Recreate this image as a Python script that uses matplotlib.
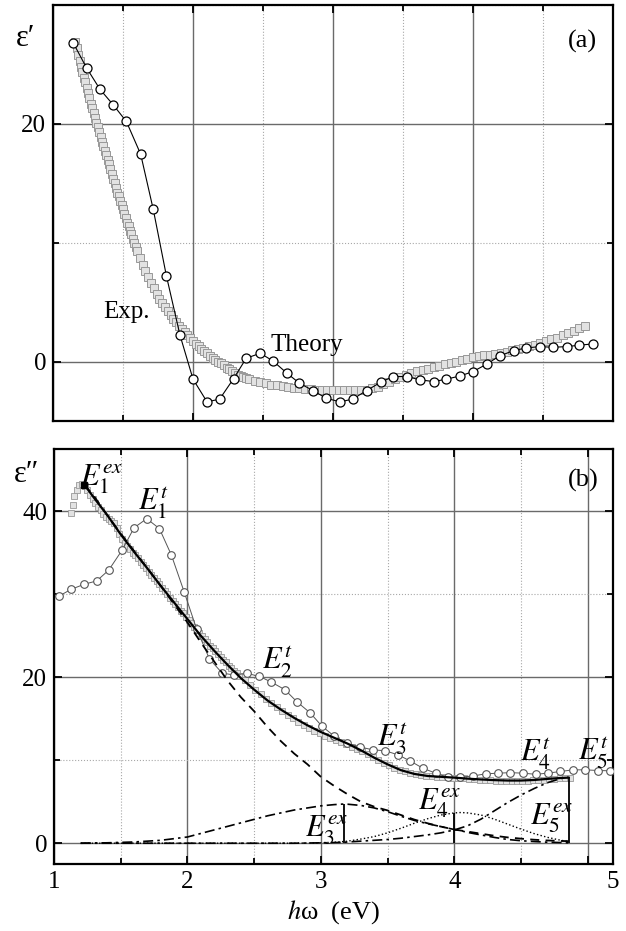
import matplotlib
matplotlib.use('Agg')
import numpy as np
import matplotlib.pyplot as plt

plt.rcParams['font.family'] = ['Liberation Serif', 'DejaVu Serif']
plt.rcParams['mathtext.fontset'] = 'stix'

# ---------------- panel (a): eps' ----------------
# experiment (dense squares)
eps1_exp_e = [1.16, 1.17, 1.18, 1.19, 1.20, 1.21, 1.22, 1.23, 1.24, 1.25,
              1.26, 1.27, 1.28, 1.29, 1.30, 1.31, 1.32, 1.33, 1.34, 1.35,
              1.36, 1.37, 1.38, 1.39, 1.40, 1.41, 1.42, 1.43, 1.44, 1.45,
              1.46, 1.47, 1.48, 1.49, 1.50, 1.51, 1.52, 1.53, 1.54, 1.55,
              1.56, 1.57, 1.58, 1.59, 1.60,
              1.62, 1.64, 1.66, 1.68, 1.70, 1.72, 1.74, 1.76, 1.78, 1.80,
              1.82, 1.84, 1.86, 1.88, 1.90, 1.92, 1.94, 1.96, 1.98, 2.00,
              2.02, 2.04, 2.06, 2.08, 2.10, 2.12, 2.14, 2.16, 2.18, 2.20,
              2.22, 2.24, 2.26, 2.28, 2.30, 2.32, 2.34, 2.36, 2.38, 2.40,
              2.44, 2.48, 2.52, 2.56, 2.60, 2.64, 2.68, 2.72, 2.76, 2.80,
              2.84, 2.88, 2.92, 2.96, 3.00, 3.04, 3.08, 3.12, 3.16, 3.20,
              3.24, 3.28, 3.32, 3.36, 3.40, 3.44, 3.48, 3.52, 3.56, 3.60,
              3.64, 3.68, 3.72, 3.76, 3.80, 3.84, 3.88, 3.92, 3.96, 4.00,
              4.04, 4.08, 4.12, 4.16, 4.20, 4.24, 4.28, 4.32, 4.36, 4.40,
              4.44, 4.48, 4.52, 4.56, 4.60, 4.64, 4.68, 4.72, 4.76, 4.80]
eps1_exp = [26.9, 26.4, 25.8, 25.3, 24.8, 24.4, 23.9, 23.5, 23.0, 22.6,
            22.2, 21.7, 21.3, 20.9, 20.5, 20.1, 19.7, 19.3, 18.9, 18.5,
            18.1, 17.7, 17.4, 17.0, 16.6, 16.2, 15.8, 15.4, 15.0, 14.6,
            14.2, 13.9, 13.5, 13.2, 12.8, 12.4, 12.1, 11.7, 11.4, 11.0,
            10.7, 10.3, 10.0, 9.6, 9.3,
            8.7, 8.1, 7.6, 7.1, 6.6, 6.15, 5.7, 5.3, 4.95, 4.6,
            4.25, 3.9, 3.6, 3.3, 3.0, 2.75, 2.45, 2.2, 1.95, 1.75,
            1.5, 1.3, 1.1, 0.9, 0.7, 0.5, 0.33, 0.15, 0.0, -0.15,
            -0.3, -0.5, -0.65, -0.8, -0.95, -1.1, -1.2, -1.3, -1.4, -1.5,
            -1.62, -1.74, -1.84, -1.93, -2.0, -2.08, -2.15, -2.2, -2.25, -2.3,
            -2.33, -2.35, -2.37, -2.39, -2.4, -2.41, -2.42, -2.42, -2.42, -2.4,
            -2.36, -2.25, -2.1, -1.9, -1.7, -1.5, -1.3, -1.1, -0.92, -0.8,
            -0.7, -0.6, -0.48, -0.36, -0.24, -0.12, 0.0, 0.12, 0.24, 0.36,
            0.44, 0.52, 0.58, 0.65, 0.74, 0.84, 0.95, 1.06, 1.18, 1.3,
            1.42, 1.56, 1.7, 1.86, 2.02, 2.2, 2.4, 2.6, 2.8, 3.0]

# theory (open circles)
eps1_th_e = [1.145, 1.24, 1.336, 1.43, 1.524, 1.626, 1.716, 1.81, 1.907, 2.0,
             2.10, 2.19, 2.29, 2.38, 2.48, 2.57, 2.67, 2.76, 2.86, 2.95,
             3.05, 3.14, 3.24, 3.34, 3.43, 3.53, 3.62, 3.72, 3.81, 3.91,
             4.0, 4.10, 4.19, 4.29, 4.38, 4.48, 4.57, 4.67, 4.76, 4.86]
eps1_th = [26.8, 24.7, 22.9, 21.6, 20.2, 17.45, 12.8, 7.2, 2.22, -1.48,
           -3.39, -3.16, -1.43, 0.28, 0.7, 0.06, -0.97, -1.82, -2.46, -3.08,
           -3.39, -3.16, -2.44, -1.74, -1.26, -1.26, -1.54, -1.68, -1.48, -1.2,
           -0.84, -0.2, 0.48, 0.92, 1.15, 1.26, 1.2, 1.26, 1.38, 1.49]

# ---------------- panel (b): eps'' ----------------
eps2_exp_e = [1.13, 1.14, 1.15, 1.17, 1.19, 1.21,
              1.23, 1.25, 1.27, 1.29, 1.31, 1.33, 1.35, 1.37, 1.39, 1.41,
              1.43, 1.45, 1.47, 1.49, 1.51, 1.53, 1.55, 1.57, 1.59, 1.61,
              1.63, 1.65, 1.67, 1.69, 1.71, 1.73, 1.75, 1.77, 1.79, 1.81,
              1.83, 1.85, 1.87, 1.89, 1.91, 1.93, 1.95, 1.97, 1.99, 2.01,
              2.03, 2.05, 2.07, 2.09, 2.11, 2.13, 2.15, 2.17, 2.19, 2.21,
              2.23, 2.25, 2.27, 2.29, 2.31, 2.33, 2.35, 2.37, 2.39,
              2.43, 2.47, 2.51, 2.55, 2.59, 2.63, 2.67, 2.71, 2.75, 2.79,
              2.83, 2.87, 2.91, 2.95, 2.99, 3.03, 3.07, 3.11, 3.15, 3.19,
              3.23, 3.27, 3.31, 3.35, 3.39, 3.43, 3.47, 3.51, 3.55, 3.59,
              3.63, 3.67, 3.71, 3.75, 3.79, 3.83, 3.87, 3.91, 3.95, 3.99,
              4.03, 4.07, 4.11, 4.15, 4.19, 4.23, 4.27, 4.31, 4.35, 4.39,
              4.43, 4.47, 4.51, 4.55, 4.59, 4.63, 4.67, 4.71, 4.75, 4.79,
              4.83, 4.87]
eps2_exp = [39.8, 40.8, 41.8, 42.6, 43.1, 43.3,
            43.0, 42.5, 42.0, 41.5, 41.0, 40.5, 40.1, 39.7, 39.3, 39.0,
            38.8, 38.6, 38.0, 37.2, 36.6, 36.2, 35.8, 35.4, 35.0, 34.7,
            34.3, 33.9, 33.5, 33.1, 32.7, 32.3, 31.9, 31.6, 31.2, 30.8,
            30.4, 30.0, 29.6, 29.2, 28.8, 28.4, 28.0, 27.7, 27.3, 26.9,
            26.5, 26.1, 25.7, 25.3, 25.0, 24.6, 24.2, 23.8, 23.5, 23.1,
            22.8, 22.4, 22.1, 21.8, 21.4, 21.1, 20.8, 20.5, 20.2,
            19.7, 19.1, 18.5, 18.0, 17.4, 16.9, 16.4, 15.95, 15.5, 15.05,
            14.65, 14.25, 13.9, 13.55, 13.25, 12.95, 12.7, 12.45, 12.2, 11.9,
            11.65, 11.35, 11.05, 10.7, 10.35, 10.0, 9.7, 9.4, 9.1, 8.85,
            8.65, 8.45, 8.3, 8.2, 8.1, 8.05, 8.0, 7.96, 7.92, 7.88,
            7.84, 7.8, 7.75, 7.7, 7.65, 7.6, 7.57, 7.54, 7.52, 7.5,
            7.48, 7.48, 7.5, 7.53, 7.57, 7.62, 7.67, 7.72, 7.77, 7.82,
            7.86, 7.9]

eps2_th_e = [1.04, 1.13, 1.227, 1.32, 1.41, 1.51, 1.60, 1.695, 1.79, 1.88,
             1.975, 2.07, 2.165, 2.26, 2.35, 2.445, 2.54, 2.63, 2.73, 2.82,
             2.92, 3.008, 3.10, 3.195, 3.295, 3.39, 3.48, 3.58, 3.67, 3.765,
             3.86, 3.95, 4.045, 4.14, 4.235, 4.33, 4.42, 4.515, 4.61, 4.70,
             4.795, 4.89, 4.98, 5.08, 5.17]
eps2_th = [29.8, 30.6, 31.2, 31.6, 32.9, 35.3, 38.0, 39.1, 37.9, 34.7,
           30.3, 25.75, 22.2, 20.5, 20.26, 20.46, 20.1, 19.4, 18.5, 17.05,
           15.7, 14.1, 12.9, 12.05, 11.6, 11.24, 11.15, 10.64, 9.9, 9.03,
           8.44, 7.96, 7.96, 8.1, 8.36, 8.44, 8.5, 8.44, 8.3, 8.44,
           8.64, 8.84, 8.84, 8.76, 8.72]

# fit: total (solid) and E1 oscillator (dashed)
fit_e = [1.227, 1.3, 1.4, 1.5, 1.6, 1.7, 1.8, 1.9, 2.0, 2.1, 2.2, 2.3, 2.4,
         2.5, 2.6, 2.7, 2.8, 2.9, 3.0, 3.1, 3.2, 3.3, 3.4, 3.5, 3.6, 3.7,
         3.8, 3.9, 4.0, 4.1, 4.2, 4.3, 4.4, 4.5, 4.6, 4.7, 4.8, 4.857]
fit_total = [43.2, 41.6, 39.5, 37.2, 35.1, 33.1, 31.0, 29.0, 27.0, 25.0, 23.2,
             21.5, 19.9, 18.5, 17.2, 16.1, 15.1, 14.2, 13.4, 12.7, 12.0, 11.2,
             10.3, 9.5, 8.8, 8.35, 8.1, 8.0, 7.9, 7.78, 7.68, 7.6, 7.55, 7.55,
             7.62, 7.75, 7.86, 7.9]
fit_e1 = [43.2, 41.8, 39.5, 37.3, 35.2, 33.1, 31.0, 28.8, 26.6, 24.2, 21.9,
          19.6, 17.6, 15.9, 14.0, 12.3, 10.8, 9.5, 8.0, 6.9, 5.9, 5.0,
          4.4, 3.95, 3.4, 2.85, 2.4, 2.0, 1.65, 1.4, 1.15, 0.9, 0.7, 0.55,
          0.42, 0.33, 0.27, 0.25]

# exciton bands E3, E4, E5
band_e = [1.2, 1.4, 1.6, 1.8, 2.0, 2.2, 2.4, 2.6, 2.8, 3.0, 3.1, 3.17, 3.2,
          3.3, 3.4, 3.5, 3.6, 3.7, 3.8, 3.9, 4.0, 4.05, 4.1, 4.2, 4.3, 4.4,
          4.5, 4.6, 4.7, 4.8, 4.857]
band_e3 = [0.0, 0.05, 0.15, 0.35, 0.75, 1.6, 2.45, 3.3, 4.0, 4.5, 4.65, 4.72,
           4.7, 4.55, 4.25, 3.8, 3.25, 2.75, 2.35, 2.0, 1.65, 1.5, 1.3, 1.0,
           0.7, 0.45, 0.3, 0.2, 0.12, 0.08, 0.05]
band_e4 = [0.0, 0.0, 0.0, 0.0, 0.0, 0.0, 0.0, 0.0, 0.0, 0.05, 0.12, 0.2,
           0.25, 0.5, 0.8, 1.25, 1.8, 2.4, 2.95, 3.4, 3.65, 3.7, 3.65, 3.4,
           2.9, 2.3, 1.7, 1.15, 0.7, 0.35, 0.2]
band_e5 = [0.0, 0.0, 0.0, 0.0, 0.0, 0.0, 0.0, 0.0, 0.0, 0.05, 0.08, 0.1,
           0.15, 0.25, 0.35, 0.45, 0.6, 0.8, 1.0, 1.25, 1.6, 1.85, 2.1, 2.9,
           3.9, 4.9, 5.8, 6.6, 7.3, 7.8, 7.95]

# exciton positions (vertical bars) and E1ex point
exc_e = [3.17, 4.0, 4.857]
exc_h = [4.72, 3.65, 7.95]
e1ex_e = [1.222]
e1ex_v = [43.2]


def style_axes(ax):
    ax.tick_params(which='both', direction='in', top=True, right=True,
                   width=1.3, labelsize=18, pad=5)
    ax.tick_params(which='major', length=6)
    ax.tick_params(which='minor', length=4)
    for s in ax.spines.values():
        s.set_linewidth(1.6)
    ax.grid(which='major', color='#6a6a6a', lw=1.0, ls='-')
    ax.grid(which='minor', color='#a8a8a8', lw=0.8, ls=':')
    ax.set_axisbelow(True)


fig = plt.figure(figsize=(6.26, 9.31), dpi=100)

# ---- (a)
ax1 = fig.add_axes([0.0847, 0.5478, 0.8946, 0.4468])
ax1.plot(eps1_exp_e, eps1_exp, ls='none', marker='s', ms=6.0,
         mfc='#e2e2e2', mec='#989898', mew=0.7, zorder=2)
ax1.plot(eps1_th_e, eps1_th, '-', color='k', lw=0.8, marker='o', ms=6.5,
         mfc='white', mec='k', mew=0.9, zorder=3)
ax1.set_xlim(1, 5)
ax1.set_ylim(-5, 30)
ax1.set_xticks([1, 2, 3, 4, 5])
ax1.set_xticks([1.5, 2.5, 3.5, 4.5], minor=True)
ax1.set_yticks([0, 20])
ax1.set_yticks([10, 30], minor=True)
style_axes(ax1)
ax1.tick_params(labelbottom=False)
ax1.text(1.357, 3.67, 'Exp.', fontsize=18, ha='left', va='baseline')
ax1.text(2.55, 0.9, 'Theory', fontsize=18, ha='left', va='baseline')
ax1.text(0.92, 0.913, '(a)', fontsize=19, ha='left', va='center',
         transform=ax1.transAxes)

# ---- (b)
ax2 = fig.add_axes([0.0863, 0.0720, 0.8930, 0.4458])
ax2.plot(eps2_exp_e, eps2_exp, ls='none', marker='s', ms=5.0,
         mfc='#e2e2e2', mec='#989898', mew=0.6, zorder=2)
ax2.plot(eps2_th_e, eps2_th, '-', color='#555555', lw=0.7, marker='o', ms=5.5,
         mfc='white', mec='#555555', mew=0.8, zorder=3)
ax2.plot(fit_e, fit_total, '-', color='k', lw=1.6, zorder=4)
ax2.plot(fit_e, fit_e1, color='k', lw=1.3, dashes=(5, 3.5), zorder=4)
ax2.plot(band_e, band_e3, color='k', lw=1.2, dashes=(6, 2.5, 1.5, 2.5), zorder=4)
ax2.plot(band_e, band_e4, color='k', lw=1.0, ls=':', zorder=4)
ax2.plot(band_e, band_e5, color='k', lw=1.2, dashes=(6, 2.5, 1.5, 2.5), zorder=4)
ax2.vlines(exc_e, 0, exc_h, color='k', lw=1.3, zorder=5)
ax2.plot(e1ex_e, e1ex_v, ls='none', marker='s', ms=4, color='k', zorder=5)
ax2.set_xlim(1, 5.19)
ax2.set_ylim(-2.5, 47.5)
ax2.set_xticks([1, 2, 3, 4, 5], labels=['1', '2', '3', '4', ''])
ax2.set_xticks([1.5, 2.5, 3.5, 4.5], minor=True)
ax2.set_yticks([0, 20, 40])
ax2.set_yticks([10, 30], minor=True)
style_axes(ax2)
ax2.annotate('5', xy=(5.19, 0), xycoords=('data', 'axes fraction'),
             xytext=(0, -5), textcoords='offset points',
             ha='center', va='top', fontsize=18)
ax2.set_xlabel(r'$h$ω  (eV)', fontsize=19, labelpad=4)
ax2.text(0.92, 0.923, '(b)', fontsize=19, ha='left', va='center',
         transform=ax2.transAxes)

lab = dict(fontsize=22, ha='left', va='baseline', zorder=6)
ax2.text(1.195, 43.1, r'$E_1^{ex}$', **lab)
ax2.text(1.63, 40.1, r'$E_1^{t}$', **lab)
ax2.text(2.557, 20.86, r'$E_2^{t}$', **lab)
ax2.text(3.42, 11.6, r'$E_3^{t}$', **lab)
ax2.text(4.495, 9.83, r'$E_4^{t}$', **lab)
ax2.text(4.93, 10.0, r'$E_5^{t}$', **lab)
ax2.text(2.88, 0.78, r'$E_3^{ex}$', **lab)
ax2.text(3.73, 4.03, r'$E_4^{ex}$', **lab)
ax2.text(4.57, 2.2, r'$E_5^{ex}$', **lab)

fig.text(0.0415, 0.959, 'ε′', fontsize=22, ha='center', va='center')
fig.text(0.042, 0.490, 'ε″', fontsize=22, ha='center', va='center')

fig.savefig('out.png', dpi=100)
